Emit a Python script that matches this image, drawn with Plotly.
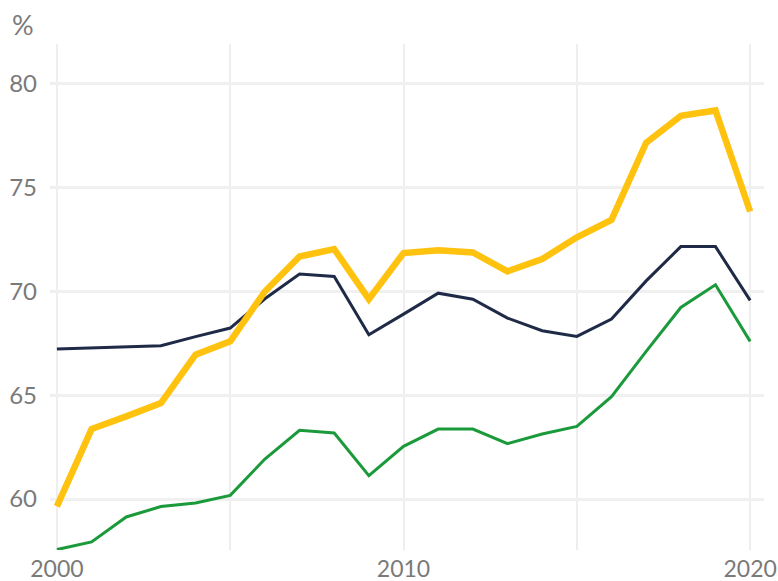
import plotly.graph_objects as go

years = list(range(2000, 2021))
yellow_vals = [59.65, 63.37, 63.98, 64.62, 66.95, 67.59, 69.99, 71.67, 72.03, 69.62, 71.84,
               71.97, 71.87, 70.96, 71.55, 72.6, 73.44, 77.15, 78.44, 78.7, 73.84]
navy_vals = [67.22, 67.27, 67.32, 67.38, 67.82, 68.23, 69.64, 70.83, 70.71, 67.91, 68.9,
             69.91, 69.62, 68.71, 68.1, 67.83, 68.66, 70.5, 72.15, 72.15, 69.56]
green_vals = [57.57, 57.94, 59.14, 59.64, 59.81, 60.18, 61.93, 63.31, 63.18, 61.13, 62.54,
              63.37, 63.37, 62.67, 63.13, 63.5, 64.93, 67.11, 69.22, 70.31, 67.59]

x_grid = [2000, 2005, 2010, 2015, 2020]
x_labels = ["2000", "", "2010", "", "2020"]
y_ticks = [60, 65, 70, 75, 80]

fig = go.Figure()
fig.add_trace(go.Scatter(x=years, y=green_vals, mode="lines",
                         line=dict(color="#1b9a3b", width=3), cliponaxis=False))
fig.add_trace(go.Scatter(x=years, y=navy_vals, mode="lines",
                         line=dict(color="#1f2a47", width=3), cliponaxis=False))
fig.add_trace(go.Scatter(x=years, y=yellow_vals, mode="lines",
                         line=dict(color="#ffc20e", width=6.5), cliponaxis=False))

fig.update_layout(
    width=778, height=581,
    margin=dict(l=50, r=14, t=44, b=31, autoexpand=False),
    paper_bgcolor="white", plot_bgcolor="white",
    showlegend=False,
    font=dict(family="Lato", size=24, color="#7a7a7a"),
    xaxis=dict(range=[1999.8, 2020.4], tickvals=x_grid, ticktext=x_labels,
               tickfont=dict(size=23),
               showgrid=True, gridcolor="#eeeeee", gridwidth=2, automargin=False,
               ticklabeloverflow="allow",
               zeroline=False, showline=False, ticks="", ticklabelstandoff=3),
    yaxis=dict(range=[57.55, 81.9], tickvals=y_ticks, automargin=False,
               showgrid=True, gridcolor="#f0f0f0", gridwidth=3,
               zeroline=False, showline=False, ticks="", ticklabelstandoff=12),
    annotations=[dict(text="%", xref="paper", yref="paper", x=-0.056, y=1.0,
                      xanchor="left", yanchor="bottom", yshift=1, showarrow=False,
                      font=dict(family="Lato", size=27, color="#7a7a7a"))],
)

# remove the browser's default 8px page margin so the figure fills the window
fig.write_html("out.html",
               config={"displayModeBar": False},
               post_script="document.body.style.margin='0';document.body.style.overflow='hidden';")
